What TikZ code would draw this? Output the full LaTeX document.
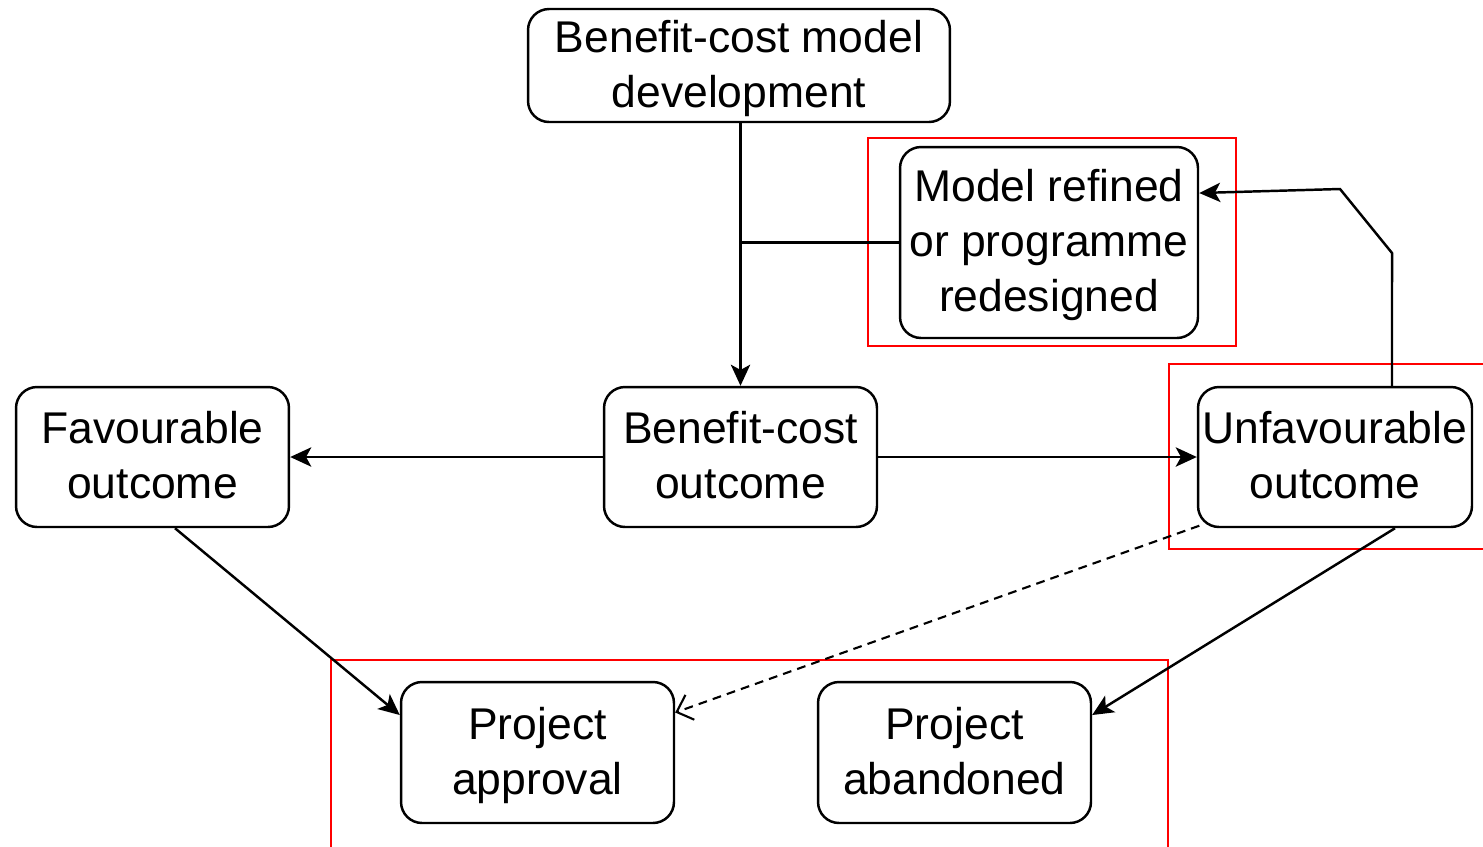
\documentclass[tikz,border=0pt]{standalone}
\usepackage{fontspec}
\setmainfont{Liberation Sans}
\usetikzlibrary{arrows.meta}
\tikzset{
	stagebox/.style={draw,line width=1.4pt,rounded corners=0.42cm,align=center,inner sep=0pt,
		font=\fontsize{25.3}{31.3}\selectfont,text depth=2pt},
	redframe/.style={draw=red,line width=0.8pt},
	flow/.style={line width=1.4pt,-{Stealth[length=12pt,width=11pt,inset=3pt]}},
	maybeflow/.style={line width=1.2pt,dash pattern=on 5pt off 3.5pt,-{Straight Barb[length=8pt,width=15pt]}}
}
\begin{document}
\begin{tikzpicture}[x=0.02cm,y=-0.02cm]
		\useasboundingbox (0,0) rectangle (1483,846);
		\clip (0,0) rectangle (1483,846);
		% boxes
		\node[stagebox,minimum width=8.44cm,minimum height=2.26cm] (model) at (739,65.5) {Benefit-cost model\\development};
		\node[stagebox,minimum width=5.96cm,minimum height=3.82cm] (refine) at (1049,242.5) {Model refined\\or programme\\redesigned};
		\node[stagebox,minimum width=5.46cm,minimum height=2.8cm] (fav) at (152.5,457) {Favourable\\outcome};
		\node[stagebox,minimum width=5.46cm,minimum height=2.8cm] (bco) at (740.5,457) {Benefit-cost\\outcome};
		\node[stagebox,minimum width=5.48cm,minimum height=2.8cm] (unfav) at (1335,457) {Unfavourable\\outcome};
		\node[stagebox,minimum width=5.46cm,minimum height=2.82cm] (approve) at (537.5,752.5) {Project\\approval};
		\node[stagebox,minimum width=5.46cm,minimum height=2.82cm] (abandon) at (954.5,752.5) {Project\\abandoned};
		% highlight frames
		\draw[redframe] (868,138) rectangle (1236,346);
		\draw[redframe] (1169,364) rectangle (1500,549);
		\draw[redframe] (331,660) rectangle (1168,870);
		% connectors
		\coordinate (bendA) at (1392,253);
		\coordinate (bendB) at (1340,189);
		\draw[flow] (bco.north |- model.south) -- (bco.north);
		\draw[line width=1.4pt] (refine.west) -- (bco.north |- refine.west);
		\draw[flow] (bco.west) -- (fav.east);
		\draw[flow] (bco.east) -- (unfav.west);
		\draw[flow] ([xshift=1.14cm]unfav.north) -- (bendA) -- (bendB) -- ([yshift=0.99cm]refine.east);
		\draw[flow] ([xshift=0.45cm]fav.south) -- ([yshift=0.75cm]approve.west);
		\draw[flow] ([xshift=1.2cm]unfav.south) -- ([yshift=0.75cm]abandon.east);
		\draw[maybeflow] ([xshift=0.05cm,yshift=0.05cm]unfav.south west) -- ([yshift=0.8cm]approve.east);
\end{tikzpicture}
\end{document}
